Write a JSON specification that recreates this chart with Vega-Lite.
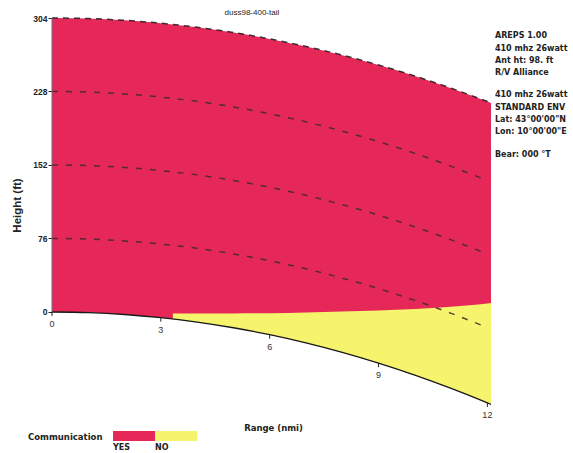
{
  "$schema": "https://vega.github.io/schema/vega-lite/v6.json",
  "width": 439,
  "height": 396,
  "autosize": {"type": "none"},
  "padding": {"left": 52, "top": 18, "right": 82, "bottom": 39},
  "background": "white",
  "config": {"view": {"stroke": null}, "font": "Liberation Sans"},
  "datasets": {
    "coverage": [
      {"range": 0, "top": 304, "bottom": 0},
      {"range": 1, "top": 303.4, "bottom": -0.65},
      {"range": 2, "top": 301.6, "bottom": -2.6},
      {"range": 3, "top": 298.6, "bottom": -5.9},
      {"range": 4, "top": 294.4, "bottom": -10.4},
      {"range": 5, "top": 289, "bottom": -16.3},
      {"range": 6, "top": 282.4, "bottom": -23.5},
      {"range": 7, "top": 274.6, "bottom": -32},
      {"range": 8, "top": 265.6, "bottom": -41.8},
      {"range": 9, "top": 255.4, "bottom": -52.9},
      {"range": 10, "top": 244, "bottom": -65.3},
      {"range": 11, "top": 231.4, "bottom": -79},
      {"range": 12, "top": 217.6, "bottom": -94},
      {"range": 12.1, "top": 216.2, "bottom": -95.6}
    ],
    "nocomm": [
      {"range": 3.33, "limit": -1.5, "bottom": -7.2},
      {"range": 4, "limit": -1.5, "bottom": -10.4},
      {"range": 5, "limit": -1.5, "bottom": -16.3},
      {"range": 6, "limit": -1.2, "bottom": -23.5},
      {"range": 7, "limit": -0.5, "bottom": -32},
      {"range": 8, "limit": 0.5, "bottom": -41.8},
      {"range": 9, "limit": 1.5, "bottom": -52.9},
      {"range": 10, "limit": 3, "bottom": -65.3},
      {"range": 11, "limit": 5.5, "bottom": -79},
      {"range": 12, "limit": 8.8, "bottom": -94},
      {"range": 12.1, "limit": 9.3, "bottom": -95.6}
    ],
    "heights": [
      {"level": 228, "range": 0, "height": 228},
      {"level": 228, "range": 1, "height": 227.4},
      {"level": 228, "range": 2, "height": 225.4},
      {"level": 228, "range": 3, "height": 222.2},
      {"level": 228, "range": 4, "height": 217.8},
      {"level": 228, "range": 5, "height": 212},
      {"level": 228, "range": 6, "height": 205},
      {"level": 228, "range": 7, "height": 196.6},
      {"level": 228, "range": 8, "height": 187},
      {"level": 228, "range": 9, "height": 176.2},
      {"level": 228, "range": 10, "height": 164},
      {"level": 228, "range": 11, "height": 150.6},
      {"level": 228, "range": 11.9, "height": 137.4},
      {"level": 152, "range": 0, "height": 152},
      {"level": 152, "range": 1, "height": 151.4},
      {"level": 152, "range": 2, "height": 149.4},
      {"level": 152, "range": 3, "height": 146.2},
      {"level": 152, "range": 4, "height": 141.8},
      {"level": 152, "range": 5, "height": 136},
      {"level": 152, "range": 6, "height": 129},
      {"level": 152, "range": 7, "height": 120.6},
      {"level": 152, "range": 8, "height": 111},
      {"level": 152, "range": 9, "height": 100.2},
      {"level": 152, "range": 10, "height": 88},
      {"level": 152, "range": 11, "height": 74.6},
      {"level": 152, "range": 11.9, "height": 61.4},
      {"level": 76, "range": 0, "height": 76},
      {"level": 76, "range": 1, "height": 75.4},
      {"level": 76, "range": 2, "height": 73.4},
      {"level": 76, "range": 3, "height": 70.2},
      {"level": 76, "range": 4, "height": 65.8},
      {"level": 76, "range": 5, "height": 60},
      {"level": 76, "range": 6, "height": 53},
      {"level": 76, "range": 7, "height": 44.6},
      {"level": 76, "range": 8, "height": 35},
      {"level": 76, "range": 9, "height": 24.2},
      {"level": 76, "range": 10, "height": 12},
      {"level": 76, "range": 11, "height": -1.4},
      {"level": 76, "range": 11.9, "height": -14.6}
    ],
    "xticks": [
      {"range": 0, "ground": 0, "label": "0"},
      {"range": 3, "ground": -5.9, "label": "3"},
      {"range": 6, "ground": -23.5, "label": "6"},
      {"range": 9, "ground": -52.9, "label": "9"},
      {"range": 12, "ground": -94, "label": "12"}
    ],
    "notes": [
      {"title": "duss98-400-tail"}
    ]
  },
  "layer": [
    {
      "data": {"name": "coverage"},
      "mark": {"type": "area", "interpolate": "monotone", "opacity": 1},
      "encoding": {
        "x": {"field": "range", "type": "quantitative", "scale": {"domain": [0, 12.1], "nice": false, "zero": false},
          "axis": {"title": "Range (nmi)", "labels": false, "ticks": false, "domain": false, "grid": false, "titleX": 221, "titleY": 13, "titleBaseline": "middle", "titleFont": "DejaVu Sans", "titleFontSize": 8.5, "titleFontWeight": "bold", "titleColor": "#222"}},
        "y": {"field": "top", "type": "quantitative", "scale": {"domain": [-105.5, 304], "nice": false, "zero": false},
          "axis": {"title": "Height (ft)", "values": [0, 76, 152, 228, 304], "domain": false, "grid": false, "tickSize": 4, "tickColor": "#222", "labelPadding": 1, "labelFontSize": 8.5, "labelFontWeight": "bold", "labelColor": "#222", "titleFontSize": 11.5, "titleFontWeight": "bold", "titleColor": "#222", "titleX": -35, "titleY": 187, "titleAngle": -90, "titleAlign": "center", "titleBaseline": "middle"}},
        "y2": {"field": "bottom"},
        "color": {"datum": "YES", "type": "nominal", "scale": {"domain": ["YES", "NO"], "range": ["#E62858", "#F5F46C"]},
          "legend": {"title": "Communication", "orient": "none", "legendX": -24, "legendY": 397, "direction": "horizontal", "titleOrient": "left", "titleAnchor": "middle", "titleBaseline": "middle", "titlePadding": 10, "titleFont": "DejaVu Sans", "titleFontSize": 8.5, "titleFontWeight": "bold", "titleColor": "#222",
            "symbolType": "M-1,-0.24H1V0.24H-1Z", "symbolSize": 1764, "symbolStrokeWidth": 0, "symbolOpacity": 1, "labelOffset": -42, "columnPadding": 0, "padding": 0, "labelFont": "DejaVu Sans", "labelFontSize": 8, "labelFontWeight": "bold", "labelColor": "#222",
            "encode": {"labels": {"update": {"dy": {"value": 12}}}, "title": {"update": {"dy": {"value": 3}}}}}}
      }
    },
    {
      "data": {"name": "nocomm"},
      "mark": {"type": "area", "interpolate": "monotone", "opacity": 1},
      "encoding": {
        "x": {"field": "range", "type": "quantitative"},
        "y": {"field": "limit", "type": "quantitative"},
        "y2": {"field": "bottom"},
        "color": {"datum": "NO", "type": "nominal"}
      }
    },
    {
      "data": {"name": "heights"},
      "mark": {"type": "line", "interpolate": "monotone", "color": "#3a2a30", "strokeWidth": 1.5, "strokeDash": [6, 8], "opacity": 0.85},
      "encoding": {
        "x": {"field": "range", "type": "quantitative"},
        "y": {"field": "height", "type": "quantitative"},
        "detail": {"field": "level", "type": "nominal"}
      }
    },
    {
      "data": {"name": "coverage"},
      "mark": {"type": "line", "interpolate": "monotone", "color": "#2a2025", "strokeWidth": 1.5, "strokeDash": [6, 5], "opacity": 0.9},
      "encoding": {
        "x": {"field": "range", "type": "quantitative"},
        "y": {"field": "top", "type": "quantitative"}
      }
    },
    {
      "data": {"name": "coverage"},
      "mark": {"type": "line", "interpolate": "monotone", "color": "#1a1a1a", "strokeWidth": 1.3},
      "encoding": {
        "x": {"field": "range", "type": "quantitative"},
        "y": {"field": "bottom", "type": "quantitative"}
      }
    },
    {
      "data": {"name": "notes"},
      "mark": {"type": "rule", "color": "#6f6a8a", "strokeWidth": 1},
      "encoding": {
        "x": {"datum": 0, "type": "quantitative"},
        "y": {"datum": 0, "type": "quantitative"},
        "y2": {"datum": 304}
      }
    },
    {
      "data": {"name": "xticks"},
      "mark": {"type": "point", "shape": "M0,0L0,1", "size": 64, "filled": false, "stroke": "#222", "strokeWidth": 1, "opacity": 1},
      "encoding": {
        "x": {"field": "range", "type": "quantitative"},
        "y": {"field": "ground", "type": "quantitative"}
      }
    },
    {
      "data": {"name": "xticks"},
      "mark": {"type": "text", "dy": 12, "baseline": "middle", "align": "center", "fontSize": 9, "color": "#333"},
      "encoding": {
        "x": {"field": "range", "type": "quantitative"},
        "y": {"field": "ground", "type": "quantitative"},
        "text": {"field": "label"}
      }
    },
    {
      "data": {"name": "notes"},
      "mark": {"type": "text", "align": "center", "baseline": "middle", "fontSize": 8, "color": "#222"},
      "encoding": {
        "x": {"datum": 5.51, "type": "quantitative"},
        "y": {"datum": 309.5, "type": "quantitative"},
        "text": {"field": "title"}
      }
    },
    {
      "data": {"name": "notes"},
      "mark": {"type": "text", "align": "left", "baseline": "top", "font": "DejaVu Sans", "fontSize": 8, "fontWeight": "bold", "color": "#222", "lineHeight": 12.3},
      "encoding": {
        "x": {"datum": 12.21, "type": "quantitative"},
        "y": {"datum": 289.2, "type": "quantitative"},
        "text": {"value": ["AREPS 1.00", "410 mhz 26watt", "Ant ht: 98. ft", "R/V Alliance"]}
      }
    },
    {
      "data": {"name": "notes"},
      "mark": {"type": "text", "align": "left", "baseline": "top", "font": "DejaVu Sans", "fontSize": 8, "fontWeight": "bold", "color": "#222", "lineHeight": 12.3},
      "encoding": {
        "x": {"datum": 12.21, "type": "quantitative"},
        "y": {"datum": 228.2, "type": "quantitative"},
        "text": {"value": ["410 mhz 26watt", "STANDARD ENV", "Lat:  43°00'00\"N", "Lon:  10°00'00\"E"]}
      }
    },
    {
      "data": {"name": "notes"},
      "mark": {"type": "text", "align": "left", "baseline": "top", "font": "DejaVu Sans", "fontSize": 8, "fontWeight": "bold", "color": "#222"},
      "encoding": {
        "x": {"datum": 12.21, "type": "quantitative"},
        "y": {"datum": 166.2, "type": "quantitative"},
        "text": {"value": "Bear: 000 °T"}
      }
    }
  ]
}
